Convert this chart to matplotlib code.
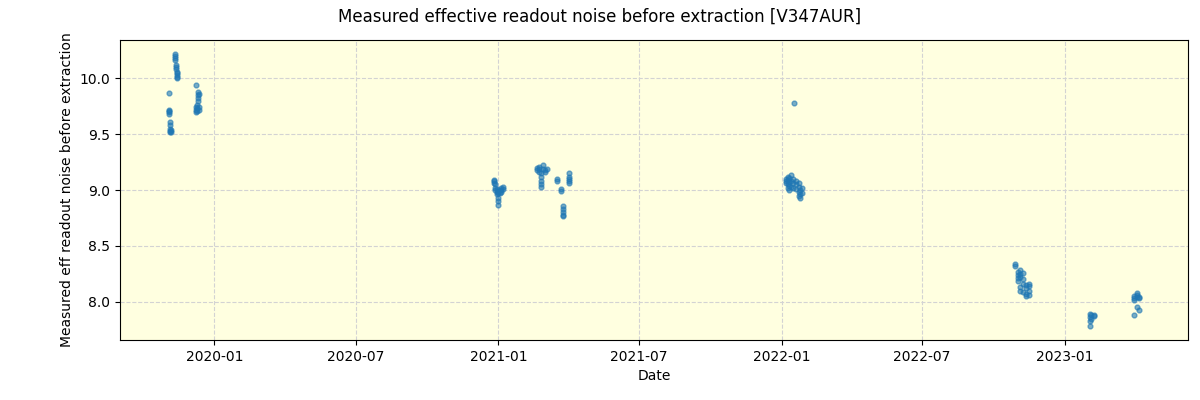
import numpy as np
import pandas as pd
import matplotlib
matplotlib.use('Agg')
import matplotlib.pyplot as plt
import matplotlib.dates as mdates

# observation dates and measured noise, cluster by cluster
dates_2019 = ['2019-11-03'] * 5 + ['2019-11-05'] * 5 + ['2019-11-06'] * 2 + \
    ['2019-11-11'] * 4 + ['2019-11-13'] * 3 + ['2019-11-14'] * 5 + \
    ['2019-12-09'] + ['2019-12-11'] * 4 + ['2019-12-12'] + \
    ['2019-12-08'] * 3 + ['2019-12-10'] * 3 + ['2019-12-12'] * 2
noise_2019 = [9.87, 9.72, 9.70, 9.68, 9.71,
              9.61, 9.58, 9.55, 9.53, 9.52,
              9.54, 9.52,
              10.22, 10.20, 10.18, 10.16,
              10.12, 10.10, 10.08,
              10.05, 10.03, 10.01, 10.00, 10.06,
              9.94,
              9.88, 9.85, 9.82, 9.80,
              9.86,
              9.72, 9.70, 9.74,
              9.76, 9.73, 9.71,
              9.72, 9.74]

dates_2021 = ['2020-12-26'] * 3 + ['2020-12-28'] * 3 + ['2020-12-30'] * 3 + \
    ['2020-12-31'] * 3 + ['2021-01-01'] * 2 + ['2021-01-03'] * 2 + \
    ['2021-01-05'] * 3 + ['2021-01-07'] * 2 + \
    ['2021-02-20'] * 2 + ['2021-02-22'] * 3 + ['2021-02-25'] * 5 + \
    ['2021-02-28'] * 2 + ['2021-03-02'] * 2 + ['2021-03-04'] + \
    ['2021-03-18'] * 2 + ['2021-03-23'] * 2 + ['2021-03-25'] * 5 + \
    ['2021-04-02'] * 5
noise_2021 = [9.08, 9.06, 9.09,
              9.05, 9.02, 9.00,
              8.98, 8.96, 9.01,
              8.90, 8.87, 8.93,
              8.97, 8.99,
              9.00, 8.97,
              9.02, 9.00, 8.98,
              9.03, 9.01,
              9.20, 9.18,
              9.21, 9.19, 9.16,
              9.15, 9.12, 9.08, 9.05, 9.03,
              9.22, 9.19,
              9.18, 9.16,
              9.19,
              9.10, 9.08,
              9.01, 8.99,
              8.86, 8.83, 8.80, 8.78, 8.77,
              9.08, 9.10, 9.12, 9.15, 9.06]

dates_2022 = ['2022-01-17'] + ['2022-01-07'] * 3 + ['2022-01-09'] * 4 + \
    ['2022-01-11'] * 4 + ['2022-01-13'] * 3 + ['2022-01-16'] * 3 + \
    ['2022-01-20'] * 3 + ['2022-01-23'] * 4 + ['2022-01-25'] * 3 + \
    ['2022-01-27'] * 2 + \
    ['2022-10-29'] * 2 + ['2022-11-01'] * 4 + ['2022-11-04'] * 5 + \
    ['2022-11-08'] * 4 + ['2022-11-12'] * 4 + ['2022-11-16'] * 4
noise_2022 = [9.78,
              9.08, 9.10, 9.06,
              9.12, 9.05, 9.02, 9.09,
              9.11, 9.04, 9.07, 9.00,
              9.13, 9.08, 9.03,
              9.10, 9.06, 9.02,
              9.08, 9.05, 9.01,
              9.06, 9.03, 8.98, 8.95,
              8.93, 8.96, 9.00,
              9.02, 8.97,
              8.34, 8.32,
              8.27, 8.24, 8.21, 8.19,
              8.28, 8.25, 8.22, 8.13, 8.10,
              8.26, 8.20, 8.16, 8.09,
              8.15, 8.12, 8.07, 8.05,
              8.16, 8.14, 8.10, 8.06]

dates_2023 = ['2023-02-02'] * 4 + ['2023-02-04'] * 2 + ['2023-02-07'] * 2 + \
    ['2023-03-31'] * 4 + ['2023-04-04'] * 4 + ['2023-04-07'] * 3
noise_2023 = [7.89, 7.86, 7.83, 7.78,
              7.88, 7.85,
              7.88, 7.87,
              8.03, 8.02, 8.05, 7.88,
              8.08, 8.06, 8.04, 7.95,
              8.04, 8.03, 7.93]

dates = pd.to_datetime(dates_2019 + dates_2021 + dates_2022 + dates_2023)
noise = np.array(noise_2019 + noise_2021 + noise_2022 + noise_2023)

fig = plt.figure(figsize=(12, 4), dpi=100)
ax = fig.add_axes([0.1, 0.15, 0.89, 0.75])
ax.set_facecolor('lightyellow')
ax.scatter(dates, noise, s=12, alpha=0.6, color='tab:blue', zorder=3)
ax.grid(True, linestyle='--', color='lightgray', zorder=0)
ax.set_axisbelow(True)

ax.xaxis.set_major_locator(mdates.MonthLocator(bymonth=[1, 7]))
ax.xaxis.set_major_formatter(mdates.DateFormatter('%Y-%m'))

ax.set_xlabel('Date')
ax.set_ylabel('Measured eff readout noise before extraction')
fig.suptitle('Measured effective readout noise before extraction [V347AUR]')

fig.savefig('out.png')
